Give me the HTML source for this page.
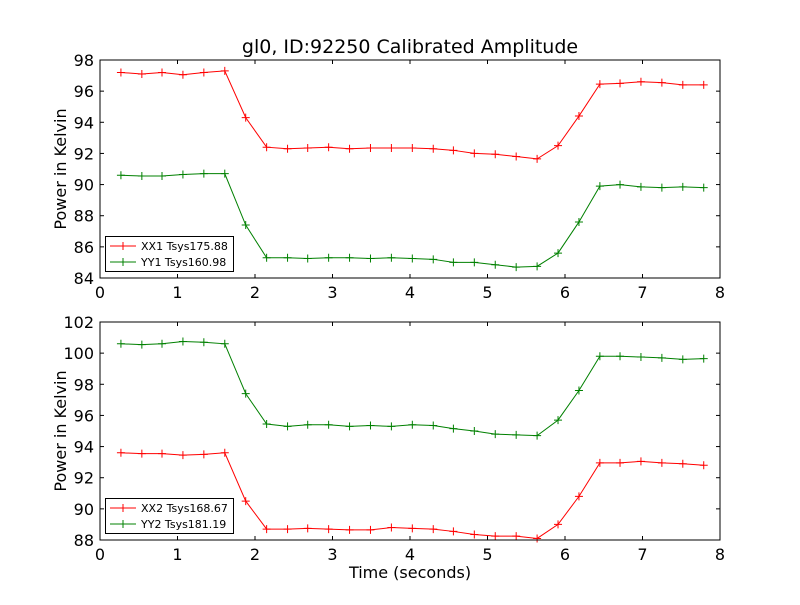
<!DOCTYPE html>
<html><head><meta charset="utf-8"><style>
body{margin:0;background:#fff}
svg{font-family:"DejaVu Sans","Liberation Sans",sans-serif}
</style></head><body>
<svg id="c" width="800" height="600" xmlns="http://www.w3.org/2000/svg"></svg>
<script>
const times=[0.27,0.54,0.80,1.07,1.34,1.61,1.88,2.15,2.42,2.68,2.95,3.22,3.49,3.76,4.03,4.30,4.56,4.83,5.10,5.37,5.64,5.91,6.18,6.45,6.71,6.98,7.25,7.52,7.79];
const xx1=[97.2,97.1,97.2,97.05,97.2,97.3,94.3,92.4,92.3,92.35,92.4,92.3,92.35,92.35,92.35,92.3,92.2,92.0,91.95,91.8,91.65,92.5,94.4,96.45,96.5,96.6,96.55,96.4,96.4];
const yy1=[90.6,90.55,90.55,90.65,90.7,90.7,87.4,85.3,85.3,85.25,85.3,85.3,85.25,85.3,85.25,85.2,85.0,85.0,84.85,84.7,84.75,85.6,87.6,89.9,90.0,89.85,89.8,89.85,89.8];
const xx2=[93.6,93.55,93.55,93.45,93.5,93.6,90.5,88.7,88.7,88.75,88.7,88.65,88.65,88.8,88.75,88.7,88.55,88.35,88.25,88.25,88.1,89.0,90.8,92.95,92.95,93.05,92.95,92.9,92.8];
const yy2=[100.6,100.55,100.6,100.75,100.7,100.6,97.4,95.45,95.3,95.4,95.4,95.3,95.35,95.3,95.4,95.35,95.15,95.0,94.8,94.75,94.7,95.7,97.6,99.8,99.8,99.75,99.7,99.6,99.65];
const xTicks=[0,1,2,3,4,5,6,7,8];
const yTicksTop=[84,86,88,90,92,94,96,98];
const yTicksBot=[88,90,92,94,96,98,100,102];
const NS="http://www.w3.org/2000/svg";
const svg=document.getElementById('c');
function mk(t,a,p){const e=document.createElementNS(NS,t);for(const k in a)e.setAttribute(k,a[k]);(p||svg).appendChild(e);return e;}
function panel(name,top,ymin,ymax,yt,series,labels,showX){
  const L=100,R=720,T=top,B=top+218;
  const g=mk('g',{});
  
  
  const sx=v=>L+(v-0)/(8-0)*(R-L);
  const sy=v=>B-(v-ymin)/(ymax-ymin)*(B-T);
  xTicks.forEach(v=>{
    mk('line',{x1:sx(v),x2:sx(v),y1:B,y2:B-4,stroke:'#000'},g);
    mk('line',{x1:sx(v),x2:sx(v),y1:T,y2:T+4,stroke:'#000'},g);
    const t=mk('text',{x:sx(v),y:B+20,'text-anchor':'middle','font-size':16},g);t.textContent=v;
    
  });
  yt.forEach(v=>{
    mk('line',{x1:L,x2:L+4,y1:sy(v),y2:sy(v),stroke:'#000'},g);
    mk('line',{x1:R,x2:R-4,y1:sy(v),y2:sy(v),stroke:'#000'},g);
    const t=mk('text',{x:L-6,y:sy(v)+6,'text-anchor':'end','font-size':16},g);t.textContent=v;
    
  });
  series.forEach(s=>{
    const pts=times.map((x,i)=>sx(x)+','+sy(s.v[i])).join(' ');
    const pl=mk('polyline',{points:pts,fill:'none',stroke:s.c,'stroke-width':1},g);
    
    times.forEach((x,i)=>{
      const X=sx(x),Y=sy(s.v[i]);
      mk('path',{d:`M${X-4},${Y}H${X+4}M${X},${Y-4}V${Y+4}`,stroke:s.c,'stroke-width':1},g);
    });
  });
  mk('rect',{x:L,y:T,width:R-L,height:B-T,fill:'none',stroke:'#000','stroke-width':1},g);
  const yl=mk('text',{x:0,y:0,transform:`translate(${L-34},${(T+B)/2}) rotate(-90)`,'text-anchor':'middle','font-size':16},g);
  yl.textContent='Power in Kelvin';
  const lg=mk('g',{},g);
  mk('rect',{x:105.5,y:B-41.5,width:128,height:35,fill:'#fff',stroke:'#000'},lg);
  series.forEach((s,i)=>{
    const y=B-32+i*16;
    mk('line',{x1:110,x2:136,y1:y,y2:y,stroke:s.c},lg);
    mk('path',{d:`M119,${y}h8M123,${y-4}v8`,stroke:s.c},lg);
    const t=mk('text',{x:141,y:y+4,'font-size':11},lg);t.textContent=labels[i];
    
  });
}
panel('top-panel',60,84,98,yTicksTop,[{v:xx1,c:'#f00',n:'xx1'},{v:yy1,c:'#008000',n:'yy1'}],['XX1 Tsys175.88','YY1 Tsys160.98']);
panel('bottom-panel',322,88,102,yTicksBot,[{v:xx2,c:'#f00',n:'xx2'},{v:yy2,c:'#008000',n:'yy2'}],['XX2 Tsys168.67','YY2 Tsys181.19']);
const ti=mk('text',{x:410,y:53,'text-anchor':'middle','font-size':19});ti.textContent='gl0, ID:92250 Calibrated Amplitude';

const xl=mk('text',{x:410,y:578,'text-anchor':'middle','font-size':16});xl.textContent='Time (seconds)';

</script>
</body></html>
